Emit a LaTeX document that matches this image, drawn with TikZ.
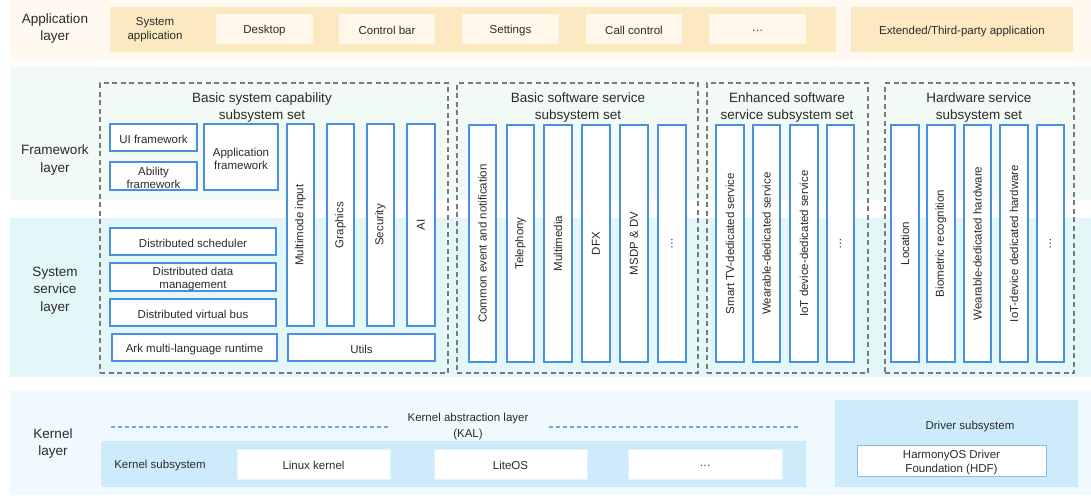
\documentclass[tikz,border=0pt]{standalone}
\usepackage{fontspec}
\setmainfont{Liberation Sans}
\definecolor{appouter}{HTML}{FFF9EF}
\definecolor{appinner}{HTML}{FCE9C2}
\definecolor{appbox}{HTML}{FFF8EA}
\definecolor{fwband}{HTML}{F2FAF5}
\definecolor{ssband}{HTML}{E3F6F8}
\definecolor{kband}{HTML}{EFF9FE}
\definecolor{kinner}{HTML}{CDEBFA}
\definecolor{blueline}{HTML}{4A90E2}
\definecolor{dashgray}{HTML}{7A7A7A}
\definecolor{kal}{HTML}{6FA8DC}
\definecolor{hdfline}{HTML}{9DB3D9}
\definecolor{txt}{HTML}{2B2B2B}
\newcommand{\bx}[7][]{\node[blk,#1,minimum width={(#5-#3)*1pt},minimum height={(#6-#4)*1pt}] (#2) at ({(#3+#5)/2},{(#4+#6)/2}) {};
  \node[lbl] (#2-t) at (#2.center) {#7};}
\newcommand{\vbx}[7][]{\node[blk,rotate=90,#1,minimum width={(#6-#4)*1pt},minimum height={(#5-#3)*1pt}] (#2) at ({(#3+#5)/2},{(#4+#6)/2}) {#7};}
\newcommand{\band}[6]{\node[draw=none,fill=#6,inner sep=0pt,minimum width={(#4-#2)*1pt},minimum height={(#5-#3)*1pt}] (#1) at ({(#2+#4)/2},{(#3+#5)/2}) {};}
\begin{document}
\begin{tikzpicture}[x=1pt,y=-1pt,
  every node/.style={text=txt,font=\fontsize{11.5}{13.5}\selectfont,align=center},
  blk/.style={draw=blueline,line width=1.1pt,fill=white,inner sep=1pt},
  lbl/.style={yshift=-1.8pt,inner sep=1pt},
  appb/.style={draw=none,fill=appbox},
  dbox/.style={draw=dashgray,line width=1.1pt,dash pattern=on 5pt off 3.5pt,fill=none},
  title/.style={font=\fontsize{13.5}{17}\selectfont,yshift=-2pt},
  layer/.style={font=\fontsize{13.5}{17.5}\selectfont,yshift=-2.5pt},
  kbox/.style={draw=kinner!60!white,line width=0.6pt,fill=white},
]
\useasboundingbox (0,0) rectangle (1091,495);
\fill[white] (0,0) rectangle (1091,495);
% bands
\band{appband}{10}{0}{1091}{61}{appouter}
\band{fwb}{10}{67}{1091}{200}{fwband}
\band{ssb}{10}{218}{1091}{377}{ssband}
\band{kb}{10}{390}{1091}{495}{kband}
% layer labels
\node[layer] (lapp) at (55,26) {Application\\layer};
\node[layer] (lfw) at (55,157.5) {Framework\\layer};
\node[layer] (lss) at (55,288) {System\\service\\layer};
\node[layer] (lk) at (53,441) {Kernel\\layer};
% application layer
\band{appin}{110}{7}{836}{52}{appinner}
\node[lbl] (sysapp) at (155,28) [font=\fontsize{11.5}{14}\selectfont] {System\\application};
\bx[appb]{desk}{216}{14}{313}{44}{Desktop}
\bx[appb]{ctrl}{339}{14}{435}{44}{Control bar}
\bx[appb]{sett}{462}{14}{559}{44}{Settings}
\bx[appb]{call}{586}{14}{682}{44}{Call control}
\bx[appb]{dots1}{709}{14}{806}{44}{\ldots}
\bx[draw=none,fill=appinner]{ext}{851}{7}{1073}{52}{Extended/Third-party application}
% dashed subsystem sets
\bx[dbox]{bsc}{100}{83}{448}{373}{}
\bx[dbox]{bss}{457}{83}{698}{373}{}
\bx[dbox]{ess}{707}{83}{868}{373}{}
\bx[dbox]{hss}{885}{83}{1074}{373}{}
\node[title] (tbsc) at (262,105.5) {Basic system capability\\subsystem set};
\node[title] (tbss) at (578,105.5) {Basic software service\\subsystem set};
\node[title] (tess) at (787,105.5) {Enhanced software\\service subsystem set};
\node[title] (thss) at (979,105.5) {Hardware service\\subsystem set};
% basic system capability
\bx{uif}{110}{124}{197}{151}{UI framework}
\bx{abf}{110}{162}{197}{190}{Ability\\framework}
\bx{apf}{204}{124}{278}{190}{Application\\framework}
\vbx{mmi}{287}{124}{314}{326}{Multimode input}
\vbx{gfx}{327}{124}{354}{326}{Graphics}
\vbx{sec}{367}{124}{394}{326}{Security}
\vbx{ai}{407}{124}{435}{326}{AI}
\bx{dsch}{110}{228}{276}{255}{Distributed scheduler}
\bx{ddm}{110}{263}{276}{291}{Distributed data\\management}
\bx{dvb}{110}{299}{276}{326}{Distributed virtual bus}
\bx{ark}{112}{334}{277}{361}{Ark multi-language runtime}
\bx{utils}{288}{334}{435}{361}{Utils}
% basic software service
\vbx{cen}{469}{125}{496}{362}{Common event and notification}
\vbx{tel}{507}{125}{534}{362}{Telephony}
\vbx{mmd}{544}{125}{572}{362}{Multimedia}
\vbx{dfx}{582}{125}{610}{362}{DFX}
\vbx{msdp}{620}{125}{648}{362}{MSDP \& DV}
\vbx{dots2}{658}{125}{686}{362}{\ldots}
% enhanced software service
\vbx{stv}{716}{125}{744}{362}{Smart TV-dedicated service}
\vbx{wds}{753}{125}{780}{362}{Wearable-dedicated service}
\vbx{iot}{790}{125}{818}{362}{IoT device-dedicated service}
\vbx{dots3}{827}{125}{854}{362}{\ldots}
% hardware service
\vbx{loc}{891}{125}{919}{362}{Location}
\vbx{bio}{927}{125}{955}{362}{Biometric recognition}
\vbx{wdh}{964}{125}{991}{362}{Wearable-dedicated hardware}
\vbx{idh}{1000}{125}{1028}{362}{IoT-device dedicated hardware}
\vbx{dots4}{1037}{125}{1064}{362}{\ldots}
% kernel layer
\coordinate (kal1a) at (111,427);
\coordinate (kal1b) at (389,427);
\coordinate (kal2a) at (549,427);
\coordinate (kal2b) at (799,427);
\draw[kal,line width=1.4pt,dash pattern=on 4pt off 3pt] (kal1a) -- (kal1b);
\draw[kal,line width=1.4pt,dash pattern=on 4pt off 3pt] (kal2a) -- (kal2b);
\node[lbl] (kalt) at (468,425) [font=\fontsize{11.5}{16}\selectfont] {Kernel abstraction layer\\(KAL)};
\band{ksub}{101}{441}{806}{487}{kinner}
\node[lbl] (ksubt) at (160,464) {Kernel subsystem};
\bx[kbox]{linux}{237}{449}{390}{479}{Linux kernel}
\bx[kbox]{liteos}{434}{449}{587}{479}{LiteOS}
\bx[kbox]{dots5}{628}{449}{782}{479}{\ldots}
\band{drv}{835}{400}{1078}{487}{kinner}
\node[lbl] (drvt) at (970,425) {Driver subsystem};
\bx[draw=hdfline,line width=1pt,fill=white]{hdf}{857}{445}{1046}{476}{HarmonyOS Driver\\Foundation (HDF)}
\end{tikzpicture}
\end{document}
